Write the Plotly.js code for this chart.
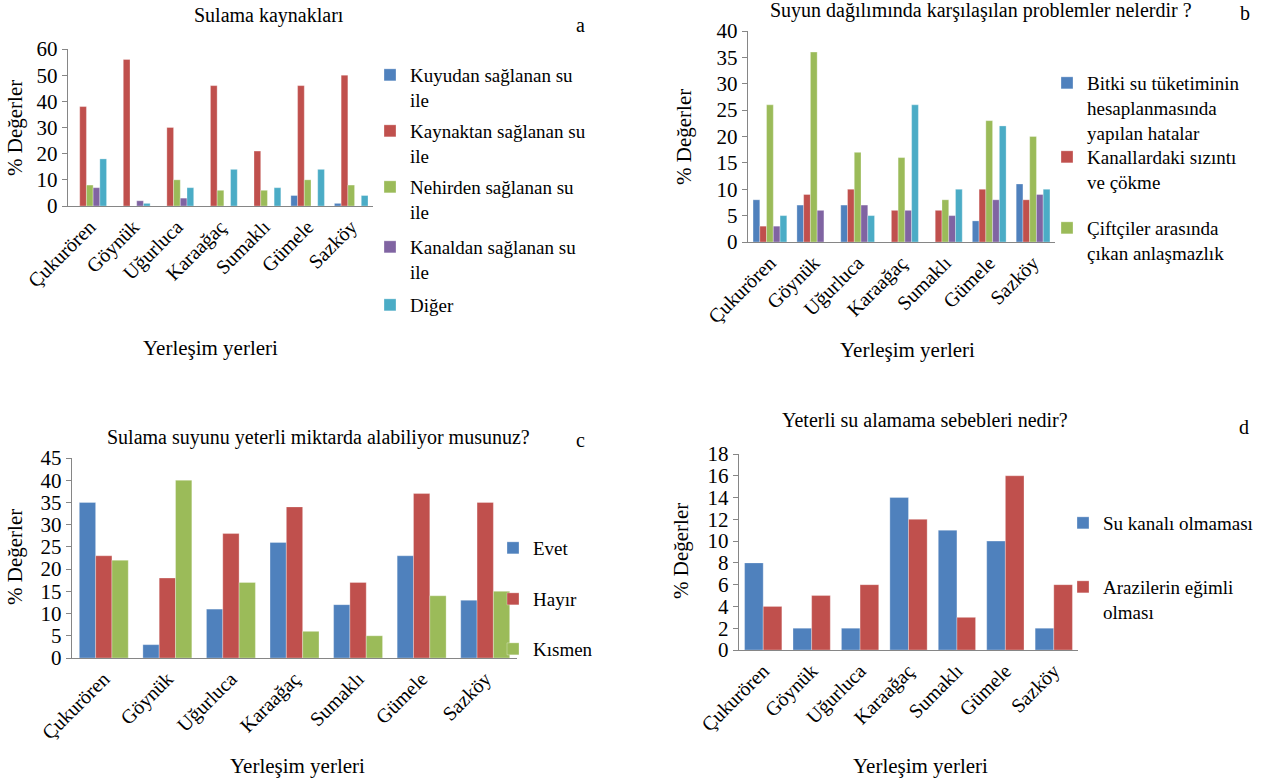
<!DOCTYPE html>
<html>
<head>
<meta charset="utf-8">
<script src="https://cdn.plot.ly/plotly-3.0.1.min.js"></script>
<style>html,body{margin:0;padding:0;background:#fff;}#chart{width:1285px;height:783px;}</style>
</head>
<body>
<div id="chart"></div>
<script>
// ---- Data ----
const categories = ['Çukurören','Göynük','Uğurluca','Karaağaç','Sumaklı','Gümele','Sazköy'];

// Panel a: Sulama kaynakları
const aNames = ['Kuyudan sağlanan su<br>ile','Kaynaktan sağlanan su<br>ile','Nehirden sağlanan su<br>ile','Kanaldan sağlanan su<br>ile','Diğer'];
const aKuyu   = [0, 0, 0, 0, 0, 4, 1];
const aKaynak = [38, 56, 30, 46, 21, 46, 50];
const aNehir  = [8, 0, 10, 6, 6, 10, 8];
const aKanal  = [7, 2, 3, 0, 0, 0, 0];
const aDiger  = [18, 1, 7, 14, 7, 14, 4];

// Panel b: Suyun dağılımında karşılaşılan problemler
const bNames = ['Bitki su tüketiminin<br>hesaplanmasında<br>yapılan hatalar','Kanallardaki sızıntı<br>ve çökme','Çiftçiler arasında<br>çıkan anlaşmazlık','Seri 4','Seri 5'];
const bBitki  = [8, 7, 7, 0, 0, 4, 11];
const bKanal  = [3, 9, 10, 6, 6, 10, 8];
const bCiftci = [26, 36, 17, 16, 8, 23, 20];
const bSeri4  = [3, 6, 7, 6, 5, 8, 9];
const bSeri5  = [5, 0, 5, 26, 10, 22, 10];

// Panel c: Sulama suyunu yeterli miktarda alabiliyor musunuz?
const cNames = ['Evet','Hayır','Kısmen'];
const cEvet   = [35, 3, 11, 26, 12, 23, 13];
const cHayir  = [23, 18, 28, 34, 17, 37, 35];
const cKismen = [22, 40, 17, 6, 5, 14, 15];

// Panel d: Yeterli su alamama sebebleri nedir?
const dNames = ['Su kanalı olmaması','Arazilerin eğimli<br>olması'];
const dKanal = [8, 2, 2, 14, 11, 10, 2];
const dArazi = [4, 5, 6, 12, 3, 16, 6];

// ---- Styling ----
const W = 1285, H = 783;
const px = x => x / W;
const py = y => 1 - y / H;
const FONT = 'Liberation Serif';
const colors = ['#4F81BD', '#C0504D', '#9BBB59', '#8064A2', '#4BACC6'];

const traces = [];
let legendCount = 0;
const legends = {};
function addLegend(xText, yFirst) {
  legendCount++;
  const key = legendCount === 1 ? 'legend' : 'legend' + legendCount;
  legends[key] = {
    x: px(xText - 40), y: py(yFirst - 19), xanchor: 'left', yanchor: 'top',
    bgcolor: 'rgba(0,0,0,0)', borderwidth: 0, valign: 'top',
    font: {family: FONT, size: 19, color: '#000'}
  };
  return key;
}
function addSeries(vals, name, color, xa, ya, legendPos) {
  const t = {
    type: 'bar', x: categories, y: vals, name: name,
    xaxis: xa, yaxis: ya,
    marker: {color: color, line: {color: 'rgba(255,255,255,0.5)', width: 0.6}},
    hoverinfo: 'y'
  };
  if (legendPos) { t.legend = addLegend(legendPos[0], legendPos[1]); t.showlegend = true; }
  else t.showlegend = false;
  traces.push(t);
}

// panel a
const aSeries = [aKuyu, aKaynak, aNehir, aKanal, aDiger];
const aLeg = [[410, 75], [410, 131], [410, 187], [410, 247], [410, 305]];
aSeries.forEach((s, i) => addSeries(s, aNames[i], colors[i], 'x', 'y', aLeg[i]));
// panel b
const bSeries = [bBitki, bKanal, bCiftci, bSeri4, bSeri5];
const bLeg = [[1087, 83], [1087, 157], [1087, 228], null, null];
bSeries.forEach((s, i) => addSeries(s, bNames[i], colors[i], 'x2', 'y2', bLeg[i]));
// panel c
const cSeries = [cEvet, cHayir, cKismen];
const cLeg = [[533, 548], [533, 599], [533, 649]];
cSeries.forEach((s, i) => addSeries(s, cNames[i], colors[i], 'x3', 'y3', cLeg[i]));
// panel d
const dSeries = [dKanal, dArazi];
const dLeg = [[1103, 523], [1103, 587]];
dSeries.forEach((s, i) => addSeries(s, dNames[i], colors[i], 'x4', 'y4', dLeg[i]));

function xAxis(x0, x1, y0, anchor) {
  return {
    domain: [px(x0), px(x1)], anchor: anchor, type: 'category',
    showline: true, linecolor: '#868686', linewidth: 1.3,
    showgrid: false, zeroline: false, ticks: '',
    tickangle: -45, tickfont: {family: FONT, size: 20, color: '#000'},
    fixedrange: true
  };
}
function yAxis(y0, y1, maxV, dt, anchor) {
  return {
    domain: [py(y0), py(y1)], anchor: anchor, range: [0, maxV], dtick: dt,
    showline: true, linecolor: '#868686', linewidth: 1.3,
    showgrid: false, zeroline: false, ticks: 'outside', ticklen: 5, tickcolor: '#868686',
    tickfont: {family: FONT, size: 21, color: '#000'},
    fixedrange: true
  };
}

function ann(text, x, y, size, rot) {
  return {text: text, x: px(x), y: py(y), xref: 'paper', yref: 'paper',
    xanchor: 'center', yanchor: 'middle', showarrow: false, textangle: rot || 0,
    font: {family: FONT, size: size, color: '#000'}};
}

const layout = Object.assign({
  width: W, height: H,
  margin: {l: 0, r: 0, t: 0, b: 0},
  paper_bgcolor: '#fff', plot_bgcolor: '#fff',
  font: {family: FONT},
  barmode: 'group',
  bargap: 0.23, bargroupgap: 0,
  xaxis: xAxis(68, 373, 206, 'y'),
  yaxis: yAxis(206, 49, 60, 10, 'x'),
  xaxis2: xAxis(748, 1055, 242, 'y2'),
  yaxis2: yAxis(242, 31, 40, 5, 'x2'),
  xaxis3: xAxis(72, 517, 658, 'y3'),
  yaxis3: yAxis(658, 458, 45, 5, 'x3'),
  xaxis4: xAxis(739, 1078, 650, 'y4'),
  yaxis4: yAxis(650, 454, 18, 2, 'x4'),
  annotations: [
    ann('Sulama kaynakları', 269, 15, 20),
    ann('a', 580, 25, 20),
    ann('Suyun dağılımında karşılaşılan problemler nelerdir ?', 981, 11, 20),
    ann('b', 1245, 13, 20),
    ann('Sulama suyunu yeterli miktarda alabiliyor musunuz?', 318, 437, 20),
    ann('c', 580, 440, 20),
    ann('Yeterli su alamama sebebleri nedir?', 925, 420, 20),
    ann('d', 1244, 427, 20),
    ann('Yerleşim yerleri', 210, 348, 21),
    ann('Yerleşim yerleri', 907, 350, 21),
    ann('Yerleşim yerleri', 297, 766, 21),
    ann('Yerleşim yerleri', 920, 766, 21),
    ann('% Değerler', 15, 128, 21, -90),
    ann('% Değerler', 684, 137, 21, -90),
    ann('% Değerler', 15, 557, 21, -90),
    ann('% Değerler', 681, 551, 21, -90)
  ]
}, legends);

Plotly.newPlot('chart', traces, layout, {displayModeBar: false, staticPlot: true});
</script>
</body>
</html>
